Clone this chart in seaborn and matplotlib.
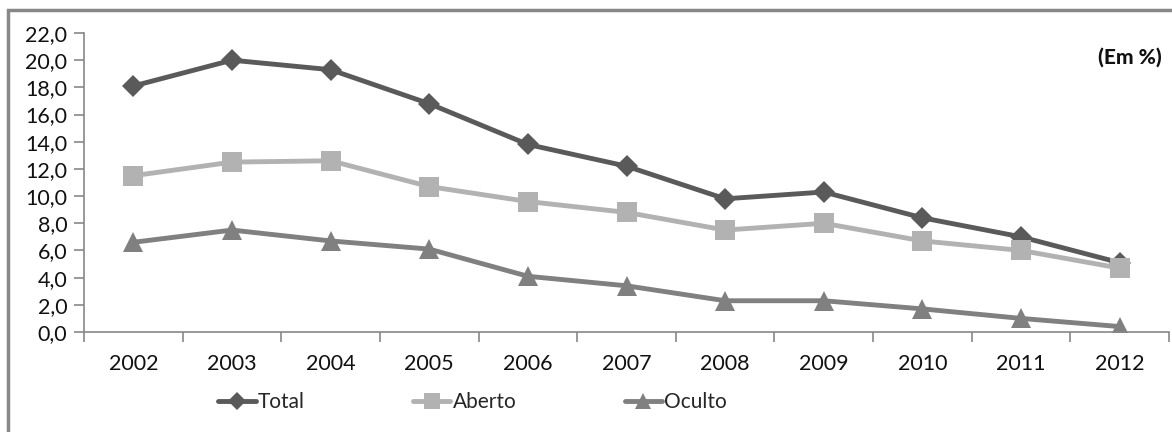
import matplotlib
matplotlib.use("Agg")
import matplotlib.pyplot as plt
import seaborn as sns
import pandas as pd
import numpy as np
from matplotlib.patches import Rectangle
from matplotlib.lines import Line2D
from matplotlib.ticker import FixedLocator, FuncFormatter

years = ["2002", "2003", "2004", "2005", "2006", "2007", "2008", "2009", "2010", "2011", "2012"]
total = [18.1, 20.0, 19.3, 16.8, 13.8, 12.2, 9.8, 10.3, 8.4, 7.0, 5.1]
aberto = [11.5, 12.5, 12.6, 10.7, 9.6, 8.8, 7.5, 8.0, 6.7, 6.0, 4.7]
oculto = [6.6, 7.5, 6.7, 6.1, 4.1, 3.4, 2.3, 2.3, 1.7, 1.0, 0.4]
series_names = ["Total", "Aberto", "Oculto"]

df = pd.DataFrame({
    "Ano": years * 3,
    "Valor": total + aberto + oculto,
    "Serie": [s for s in series_names for _ in years],
})

sns.set_theme(style="white")
plt.rcParams["font.family"] = ["Lato", "DejaVu Sans"]

fig = plt.figure(figsize=(11.72, 4.32), dpi=100)
ax = fig.add_axes([84 / 1172, 1 - 332 / 432, 1085 / 1172, (332 - 33) / 432])

palette = {"Total": "#5a5a5a", "Aberto": "#b2b2b2", "Oculto": "#808080"}
markers = {"Total": "D", "Aberto": "s", "Oculto": "^"}
sizes_map = {"Total": 11, "Aberto": 14, "Oculto": 15}

sns.lineplot(data=df, x="Ano", y="Valor", hue="Serie", style="Serie",
             palette=palette, markers=markers, dashes=False, linewidth=3.5,
             markersize=12, markeredgewidth=0, ax=ax, legend=False)
for line, s in zip(ax.get_lines(), series_names):
    line.set_markersize(sizes_map[s])

ax.set_xlim(-0.5, len(years) - 0.5)
ax.set_ylim(0, 22)
ax.set_yticks(np.arange(0, 22.1, 2))
ax.yaxis.set_major_formatter(FuncFormatter(lambda v, p: f"{v:.1f}".replace(".", ",")))
ax.xaxis.set_minor_locator(FixedLocator(np.arange(-0.5, len(years), 1.0)))
ax.tick_params(axis="x", which="major", length=0, pad=16, labelsize=15.5, colors="#111111")
ax.tick_params(axis="x", which="minor", length=7, width=1.2, direction="out", color="#888888", bottom=True)
ax.tick_params(axis="y", length=7, width=1.2, direction="out", color="#888888", left=True,
               labelsize=15.5, labelcolor="#111111", pad=5)
ax.set_xlabel("")
ax.set_ylabel("")
for side in ["top", "right"]:
    ax.spines[side].set_visible(False)
for side in ["left", "bottom"]:
    ax.spines[side].set_color("#888888")
    ax.spines[side].set_linewidth(1.2)

ax.text(1162 / 1172, 1 - 57 / 432, "(Em %)", transform=fig.transFigure, ha="right", va="center",
        fontsize=15, fontweight="black", color="#111111")

handles = [Line2D([0], [0], color=palette[s], marker=markers[s], lw=3.5,
                  markersize=sizes_map[s] * 0.8, markeredgewidth=0) for s in series_names]
fig.legend(handles, series_names, loc="center left", bbox_to_anchor=(218 / 1172, 1 - 402 / 432), ncol=3,
           frameon=False, fontsize=15, handlelength=1.8, handletextpad=0.1, columnspacing=5.2,
           borderpad=0, borderaxespad=0)

fig.add_artist(Rectangle((8 / 1172, -0.1), 1.2, 1 - 10 / 432 + 0.1, transform=fig.transFigure,
                         fill=False, edgecolor="#888888", linewidth=2.5))

fig.savefig("out.png", dpi=100)
